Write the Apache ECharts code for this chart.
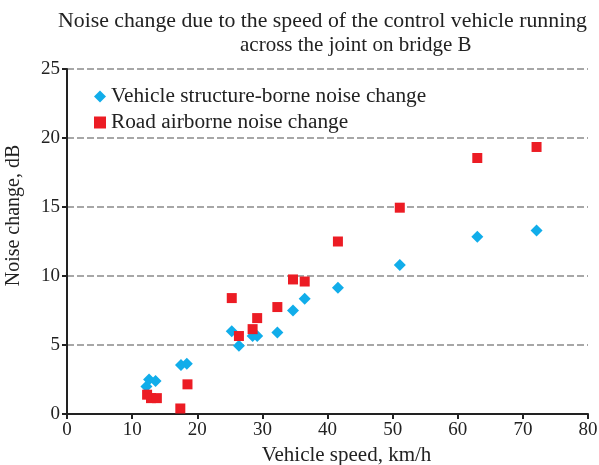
<!DOCTYPE html>
<html>
<head>
<meta charset="utf-8">
<script src="https://cdn.jsdelivr.net/npm/echarts@6/dist/echarts.min.js"></script>
<style>
    html, body { margin: 0; padding: 0; background: #fff; }
    #noise-chart-box { width: 599px; height: 465px; }
</style>
</head>
<body>
<div id="noise-chart-box"></div>
<script>
// 資料
var seriesNames = ['Vehicle structure-borne noise change', 'Road airborne noise change'];
var structureSpeed = [12.2, 12.6, 13.6, 17.5, 18.4, 25.3, 26.4, 28.5, 29.2, 32.3, 34.7, 36.5, 41.6, 51.1, 63.0, 72.1];
var structureNoise = [2.0, 2.5, 2.4, 3.55, 3.65, 6.0, 4.95, 5.65, 5.65, 5.9, 7.5, 8.35, 9.15, 10.8, 12.85, 13.3];
var airSpeed = [12.3, 12.9, 13.8, 17.4, 18.5, 25.3, 26.4, 28.5, 29.2, 32.3, 34.7, 36.5, 41.6, 51.1, 63.0, 72.1];
var airNoise = [1.4, 1.15, 1.15, 0.4, 2.15, 8.4, 5.65, 6.15, 6.95, 7.75, 9.75, 9.6, 12.5, 14.95, 18.55, 19.35];
var xTicks = [0, 10, 20, 30, 40, 50, 60, 70, 80];
var yTicks = [0, 5, 10, 15, 20, 25];

function pairs(xs, ys) {
    return xs.map(function (x, i) { return [x, ys[i]]; });
}

noiseChart();

function noiseChart() {
    var chartDom = document.getElementById('noise-chart-box');
    var myChart = echarts.init(chartDom);
    var serif = 'Liberation Serif';
    var ink = '#222';
    var option;

    option = {
        animation: false,
        textStyle: { fontFamily: serif },
        title: [
            {
                text: 'Noise change due to the speed of the control vehicle running',
                left: 53,
                top: 5,
                textStyle: { fontFamily: serif, fontWeight: 'normal', fontSize: 21.8, color: ink }
            },
            {
                text: 'across the joint on bridge B',
                left: 235,
                top: 30,
                textStyle: { fontFamily: serif, fontWeight: 'normal', fontSize: 21, color: ink }
            }
        ],
        legend: {
            orient: 'vertical',
            left: 89,
            top: 81,
            itemGap: 5,
            itemWidth: 12,
            itemHeight: 12,
            textStyle: { fontFamily: serif, fontSize: 21.3, color: ink },
            data: [
                { name: seriesNames[0], icon: 'diamond' },
                { name: seriesNames[1], icon: 'rect' }
            ]
        },
        grid: {
            left: 67,
            right: 11,
            top: 69,
            bottom: 51,
            outerBoundsMode: 'none'
        },
        xAxis: {
            type: 'value',
            min: xTicks[0],
            max: xTicks[xTicks.length - 1],
            interval: 10,
            name: 'Vehicle speed, km/h',
            nameLocation: 'middle',
            nameGap: 30,
            // 名稱略偏右
            nameTextStyle: { fontFamily: serif, fontSize: 21, color: ink, padding: [0, 0, 0, 38] },
            axisLine: { lineStyle: { color: ink, width: 2 } },
            axisTick: { show: true, inside: false, length: 5, lineStyle: { color: ink, width: 2 } },
            axisLabel: { fontFamily: serif, fontSize: 19, color: ink, margin: 7 },
            splitLine: { show: false }
        },
        yAxis: {
            type: 'value',
            min: yTicks[0],
            max: yTicks[yTicks.length - 1],
            interval: 5,
            name: 'Noise change, dB',
            nameLocation: 'middle',
            nameGap: 43,
            // 名稱略偏上
            nameTextStyle: { fontFamily: serif, fontSize: 20, color: ink, padding: [0, 0, 0, 52] },
            axisLine: { show: true, lineStyle: { color: ink, width: 2 } },
            axisTick: { show: true, inside: false, length: 5, lineStyle: { color: ink, width: 2 } },
            axisLabel: { fontFamily: serif, fontSize: 19, color: ink, margin: 7 },
            splitLine: {
                show: true,
                lineStyle: { color: '#8a8a8a', type: [7, 3], width: 1.5 }
            }
        },
        series: [
            {
                name: seriesNames[0],
                type: 'scatter',
                symbol: 'diamond',
                symbolSize: 12,
                itemStyle: { color: '#11ADEA', opacity: 1 },
                data: pairs(structureSpeed, structureNoise)
            },
            {
                name: seriesNames[1],
                type: 'scatter',
                symbol: 'rect',
                symbolSize: 10,
                itemStyle: { color: '#EC1C24', opacity: 1 },
                data: pairs(airSpeed, airNoise)
            }
        ]
    };

    option && myChart.setOption(option);
}
</script>
</body>
</html>
